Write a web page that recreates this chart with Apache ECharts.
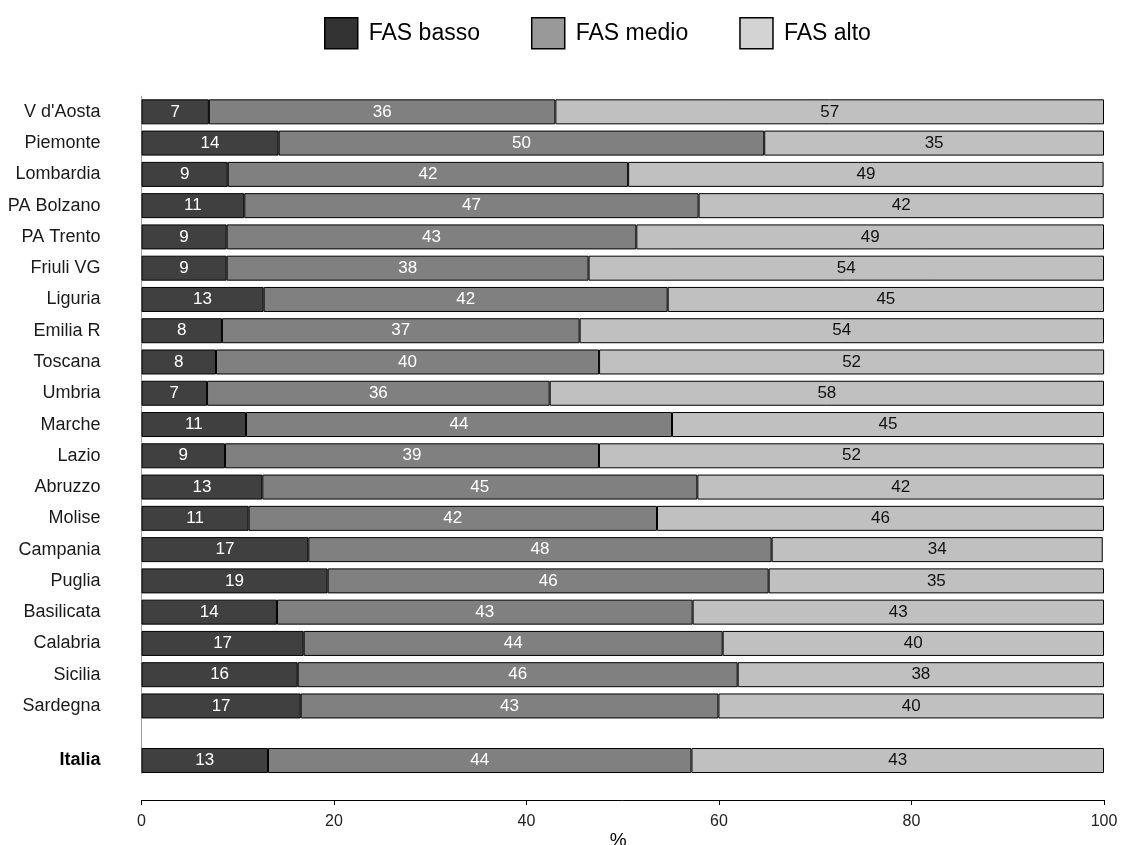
<!DOCTYPE html>
<html>
<head>
<meta charset="utf-8">
<script src="https://cdn.jsdelivr.net/npm/echarts@6/dist/echarts.min.js"></script>
<style>html,body{margin:0;padding:0;background:#fff;}#c{width:1121px;height:845px;}</style>
</head>
<body>
<div id="c"></div>
<script>
const regions = ["V d'Aosta","Piemonte","Lombardia","PA Bolzano","PA Trento","Friuli VG","Liguria","Emilia R","Toscana","Umbria","Marche","Lazio","Abruzzo","Molise","Campania","Puglia","Basilicata","Calabria","Sicilia","Sardegna"];
const fasBasso = [7.0,14.25,8.96,10.68,8.85,8.85,12.69,8.36,7.74,6.81,10.86,8.68,12.55,11.13,17.33,19.34,14.08,16.85,16.23,16.54];
const fasMedio = [36.0,50.45,41.6,47.2,42.56,37.6,41.98,37.16,39.8,35.6,44.26,38.85,45.2,42.43,48.14,45.82,43.18,43.53,45.71,43.4];
const fasAlto  = [57.0,35.3,49.4,42.1,48.59,53.55,45.33,54.48,52.47,57.59,44.88,52.47,42.25,46.44,34.4,34.84,42.74,39.62,38.06,40.06];
const italiaLabel = "Italia";
const italia = [13.14,44.0,42.86];
const seriesNames = ["FAS basso","FAS medio","FAS alto"];
const xTicks = [0,20,40,60,80,100];

const FONT = "Liberation Sans, Arial, sans-serif";
const colors = ["#404040","#808080","#c0c0c0"];
const legendColors = ["#333333","#999999","#d3d3d3"];
const labelColors = ["#ffffff","#ffffff","#111111"];
const regionVals = [fasBasso, fasMedio, fasAlto];

const chart = echarts.init(document.getElementById('c'), null, {renderer:'canvas'});

function mkSeries(i, gridIdx, data){
  return {
    name: seriesNames[i], type:'bar', stack: 's'+gridIdx,
    xAxisIndex: gridIdx, yAxisIndex: gridIdx,
    barWidth: 25, data: data,
    itemStyle:{color:colors[i], borderColor:'#000', borderWidth:1},
    label:{show:true, position:'inside', color:labelColors[i], fontFamily:FONT, fontSize:17,
      formatter: p => Math.round(p.value)},
    emphasis:{disabled:true}, animation:false
  };
}
const series = [];
for (let i=0;i<3;i++) series.push(mkSeries(i,0,regionVals[i]));
for (let i=0;i<3;i++) series.push(mkSeries(i,1,[null, italia[i]]));

const yLabelStyle = {color:'#1a1a1a', fontFamily:FONT, fontSize:18, margin:41};

chart.setOption({
  animation:false,
  backgroundColor:'#fff',
  legend:{
    top:17, left:324, padding:0, itemWidth:33, itemHeight:31, itemGap:51,
    textStyle:{fontFamily:FONT, fontSize:23, color:'#000', padding:[0,0,0,6]},
    data: seriesNames.map((n,i)=>({name:n, icon:'rect', itemStyle:{color:legendColors[i], borderColor:'#000', borderWidth:1.5}}))
  },
  grid:[
    {left:141.5, right:17, top:96.2, height:625.4, outerBoundsMode:'none', containLabel:false},
    {left:141.5, right:17, top:721.6, height:51.9, outerBoundsMode:'none', containLabel:false}
  ],
  xAxis:[
    {gridIndex:0, type:'value', min:0, max:100, interval:20, show:false},
    {gridIndex:1, type:'value', min:0, max:100, interval:20, offset:26.5,
     axisLine:{show:true, lineStyle:{color:'#000', width:1}},
     axisTick:{show:true, length:5, lineStyle:{color:'#000'}},
     splitLine:{show:false},
     axisLabel:{color:'#222', fontFamily:FONT, fontSize:16, margin:14,
       formatter: v => xTicks.includes(v) ? String(v) : ''},
     name:'%', nameLocation:'middle', nameGap:28,
     nameTextStyle:{fontFamily:FONT, fontSize:19, color:'#000', padding:[0,9,0,0]}}
  ],
  yAxis:[
    {gridIndex:0, type:'category', inverse:true, data:regions,
     axisLine:{show:true, lineStyle:{color:'#a0a0a0'}}, axisTick:{show:false},
     axisLabel:yLabelStyle},
    {gridIndex:1, type:'category', inverse:true, data:['', italiaLabel],
     axisLine:{show:true, lineStyle:{color:'#a0a0a0'}}, axisTick:{show:false},
     axisLabel:Object.assign({}, yLabelStyle, {fontWeight:'bold', color:'#000'})}
  ],
  series: series
});
</script>
</body>
</html>
